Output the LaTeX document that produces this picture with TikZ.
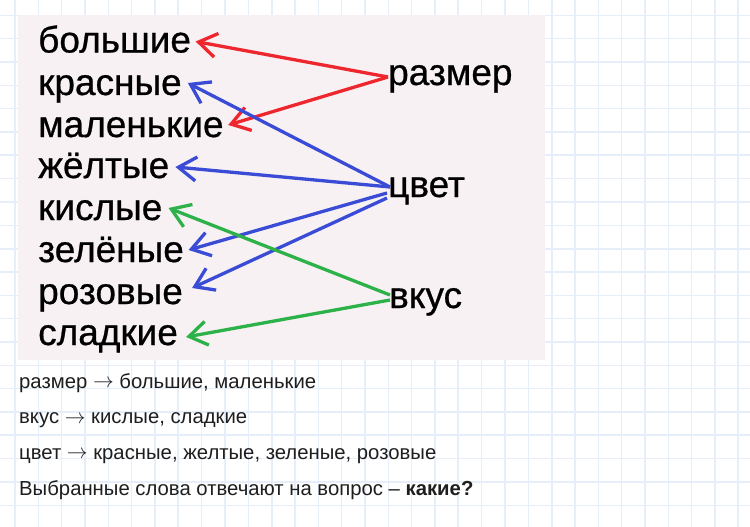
\documentclass[tikz,border=0pt]{standalone}
\usepackage{fontspec}
\setmainfont{Liberation Sans}
\newfontfamily\photofont{Liberation Sans}[FakeBold=0.7]
\usetikzlibrary{arrows.meta}
\definecolor{gridblue}{RGB}{229,238,249}
\definecolor{photobg}{RGB}{248,241,243}
\definecolor{redarr}{RGB}{238,38,46}
\definecolor{bluearr}{RGB}{58,75,214}
\definecolor{greenarr}{RGB}{45,178,74}
\definecolor{txtgray}{RGB}{30,30,30}
\newcommand{\thinarrow}{\raisebox{0.5pt}{$\rightarrow$}}
\tikzset{
  gridline/.style={draw=gridblue, line width=1.3pt},
  gridthick/.style={draw=gridblue, line width=2.2pt},
  bigword/.style={inner sep=0pt, anchor=base west, text=black, font=\photofont\fontsize{37}{40}\selectfont},
  answer/.style={inner sep=0pt, anchor=base west, text=txtgray, font=\fontsize{20.3}{24}\selectfont},
  arr/.style={line width=3.3pt, -{Straight Barb[length=18pt,width=24pt]}},
  redline/.style={arr, draw=redarr},
  blueline/.style={arr, draw=bluearr},
  greenline/.style={arr, draw=greenarr}
}
\begin{document}
\begin{tikzpicture}[x=1pt,y=-1pt]
\useasboundingbox (0,0) rectangle (750,527);
\fill[white] (0,0) rectangle (750,527);
% graph paper
\foreach \k in {0,...,31} \draw[gridline] ({15+23.333*\k},0) -- ({15+23.333*\k},527);
\foreach \k in {0,...,21} \draw[gridline] (0,{15.3+23.333*\k}) -- (750,{15.3+23.333*\k});
\foreach \k in {3,7,...,31} \draw[gridthick] ({15+23.333*\k},0) -- ({15+23.333*\k},527);
\foreach \k in {2,6,...,21} \draw[gridthick] (0,{15.3+23.333*\k}) -- (750,{15.3+23.333*\k});
% photo
\fill[photobg] (18,15) rectangle (545,360);
% left words
\node[bigword] (bol) at (38,52.5) {большие};
\node[bigword] (kra) at (38,95) {красные};
\node[bigword] (mal) at (38,137) {маленькие};
\node[bigword] (zhe) at (38,178) {жёлтые};
\node[bigword] (kis) at (38,220) {кислые};
\node[bigword] (zel) at (38,262) {зелёные};
\node[bigword] (roz) at (38,304) {розовые};
\node[bigword] (sla) at (38,345) {сладкие};
% right words
\node[bigword] (raz) at (388,85) {размер};
\node[bigword] (cve) at (388,197) {цвет};
\node[bigword] (vku) at (389,308) {вкус};
% arrows
\draw[redline] ([shift={(0,-8)}]raz.base west) -- ([shift={(4.5,-11)}]bol.base east);
\draw[redline] ([shift={(0,-8)}]raz.base west) -- ([shift={(4.5,-12)}]mal.base east);
\draw[blueline] ([shift={(2,-10)}]cve.base west) -- ([shift={(6,-12)}]kra.base east);
\draw[blueline] ([shift={(2,-10)}]cve.base west) -- ([shift={(6,-11)}]zhe.base east);
\draw[blueline] ([shift={(-1,-4)}]cve.base west) -- ([shift={(4.5,-12)}]zel.base east);
\draw[blueline] ([shift={(-1,1)}]cve.base west) -- ([shift={(9,-16)}]roz.base east);
\draw[greenline] ([shift={(1,-13)}]vku.base west) -- ([shift={(6,-12)}]kis.base east);
\draw[greenline] ([shift={(1,-8)}]vku.base west) -- ([shift={(8,-8)}]sla.base east);
% answer text
\node[answer] (a1) at (19,388) {размер \thinarrow{} большие, маленькие};
\node[answer] (a2) at (19,423.5) {вкус \thinarrow{} кислые, сладкие};
\node[answer] (a3) at (19,459.3) {цвет \thinarrow{} красные, желтые, зеленые, розовые};
\node[answer] (a4) at (19,495) {Выбранные слова отвечают на вопрос – \textbf{какие?}};
\end{tikzpicture}
\end{document}
